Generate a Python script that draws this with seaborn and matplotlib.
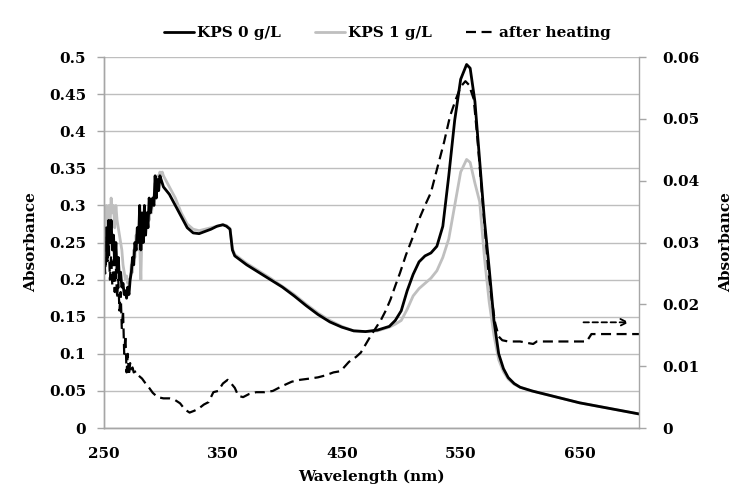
import numpy as np
import pandas as pd
import matplotlib
matplotlib.use("Agg")
import matplotlib.pyplot as plt
import seaborn as sns

# wavelength grid shared by the two KPS spectra (nm)
wl = [250, 251, 252, 253, 254, 255, 256, 257, 258, 259, 260, 261, 262, 263, 264,
      265, 266, 267, 268, 269, 270, 271, 272, 273, 274, 275, 276, 277, 278, 279,
      280, 281, 282, 283, 284, 285, 286, 287, 288, 289, 290, 291, 292, 293, 294,
      295, 296, 297, 298, 299, 300,
      305, 310, 315, 320, 325, 330, 335, 340, 345, 350, 353, 356, 358, 360, 365,
      370, 380, 390, 400, 410, 420, 430, 440, 450, 460, 470, 480, 490, 495, 500,
      505, 510, 515, 520, 525, 530, 535, 540, 545, 550, 555, 558, 562, 566, 570,
      574, 578, 582, 586, 590, 595, 600, 610, 620, 630, 640, 650, 660, 670, 680,
      690, 700]

kps0 = [0.26, 0.22, 0.27, 0.23, 0.28, 0.25, 0.28, 0.24, 0.26, 0.22, 0.25, 0.21, 0.23, 0.20, 0.21,
        0.19, 0.195, 0.18, 0.185, 0.175, 0.19, 0.18, 0.20, 0.21, 0.23, 0.22, 0.25, 0.24, 0.27, 0.25,
        0.30, 0.24, 0.29, 0.25, 0.30, 0.26, 0.29, 0.27, 0.31, 0.29, 0.30, 0.31, 0.30, 0.34, 0.31,
        0.335, 0.32, 0.34, 0.335, 0.33, 0.325,
        0.315, 0.30, 0.285, 0.27, 0.263, 0.262, 0.265, 0.268, 0.272, 0.274, 0.272, 0.268, 0.24, 0.232, 0.226,
        0.22, 0.21, 0.20, 0.19, 0.178, 0.165, 0.153, 0.143, 0.136, 0.131, 0.13, 0.132, 0.137, 0.145, 0.158,
        0.185, 0.207, 0.224, 0.232, 0.236, 0.245, 0.272, 0.34, 0.415, 0.47, 0.49, 0.485, 0.44, 0.36, 0.28,
        0.215, 0.145, 0.10, 0.08, 0.068, 0.06, 0.055, 0.05, 0.046, 0.042, 0.038, 0.034, 0.031, 0.028, 0.025,
        0.022, 0.019]

kps1 = [0.28, 0.26, 0.30, 0.28, 0.30, 0.27, 0.31, 0.29, 0.30, 0.27, 0.30, 0.28, 0.27, 0.26, 0.25,
        0.24, 0.22, 0.21, 0.20, 0.205, 0.195, 0.20, 0.20, 0.22, 0.21, 0.24, 0.23, 0.26, 0.24, 0.27,
        0.25, 0.20, 0.27, 0.28, 0.26, 0.29, 0.27, 0.29, 0.28, 0.30, 0.29, 0.31, 0.31, 0.33, 0.32,
        0.34, 0.335, 0.345, 0.34, 0.345, 0.34,
        0.325, 0.31, 0.29, 0.275, 0.268, 0.266, 0.268, 0.27, 0.272, 0.274, 0.273, 0.269, 0.242, 0.234, 0.228,
        0.222, 0.212, 0.202, 0.191, 0.18, 0.167, 0.155, 0.145, 0.137, 0.131, 0.13, 0.131, 0.136, 0.14, 0.145,
        0.16, 0.178, 0.188, 0.195, 0.202, 0.212, 0.23, 0.255, 0.30, 0.345, 0.362, 0.358, 0.33, 0.305, 0.23,
        0.17, 0.125, 0.092, 0.076, 0.066, 0.059, 0.055, 0.05, 0.046, 0.042, 0.038, 0.034, 0.031, 0.028, 0.025,
        0.022, 0.019]

# after heating, read on the right axis
wl_h = [250, 251, 252, 253, 254, 255, 256, 257, 258, 259, 260, 261, 262, 263, 264, 265,
        266, 267, 268, 269, 270, 271, 272, 273, 274, 275, 277, 279, 282, 285, 288, 291,
        295, 300, 305, 310, 314, 318, 322, 326, 330, 334, 338, 342, 346, 350, 354, 357,
        360, 363, 367, 372, 378, 385, 392, 400, 408, 415, 423, 430, 436, 443, 449, 456,
        462, 466, 470, 474, 478, 483, 487, 491, 495, 499, 504, 508, 512, 516, 520, 525,
        530, 536, 541, 546, 550, 554, 557, 561, 564, 567, 570, 573, 576, 579, 582, 585,
        590, 600, 608, 611, 614, 620, 630, 640, 656, 660, 670, 680, 690, 700]
heated = [0.029, 0.025, 0.031, 0.027, 0.030, 0.024, 0.028, 0.023, 0.027, 0.022, 0.026, 0.021, 0.024, 0.019, 0.022, 0.016,
          0.019, 0.012, 0.015, 0.009, 0.012, 0.0085, 0.0105, 0.0095, 0.0098, 0.009, 0.0092, 0.0085, 0.008, 0.0072, 0.0065, 0.0057,
          0.005, 0.0048, 0.0048, 0.0045, 0.004, 0.003, 0.0025, 0.0028, 0.0032, 0.0038, 0.0042, 0.0058, 0.006, 0.0072, 0.0078, 0.0072,
          0.0065, 0.0052, 0.005, 0.0055, 0.0058, 0.0058, 0.006, 0.0068, 0.0075, 0.0078, 0.008, 0.0082, 0.0085, 0.009, 0.0092, 0.0107,
          0.0115, 0.0122, 0.0135, 0.0148, 0.016, 0.0175, 0.019, 0.0208, 0.023, 0.0251, 0.028, 0.030, 0.032, 0.0342, 0.036, 0.0381,
          0.0418, 0.0462, 0.0504, 0.0532, 0.0552, 0.0561, 0.0555, 0.0532, 0.047, 0.040, 0.033, 0.026, 0.021, 0.017, 0.0148, 0.0142,
          0.014, 0.014, 0.0137, 0.0136, 0.014, 0.014, 0.014, 0.014, 0.014, 0.0152, 0.0152, 0.0152, 0.0152, 0.0152]

left_ticks = [0, 0.05, 0.1, 0.15, 0.2, 0.25, 0.3, 0.35, 0.4, 0.45, 0.5]
right_ticks = [0, 0.01, 0.02, 0.03, 0.04, 0.05, 0.06]
x_ticks = [250, 350, 450, 550, 650]

df = pd.DataFrame({"wl": wl, "kps0": kps0, "kps1": kps1})
dfh = pd.DataFrame({"wl": wl_h, "heated": heated})

sns.set_style("white")
plt.rcParams["font.family"] = ["DejaVu Serif"]
plt.rcParams["font.weight"] = "bold"
plt.rcParams["font.size"] = 11
plt.rcParams["text.color"] = "black"
plt.rcParams["axes.labelcolor"] = "black"
plt.rcParams["xtick.labelcolor"] = "black"
plt.rcParams["ytick.labelcolor"] = "black"

fig = plt.figure(figsize=(7.45, 4.92), dpi=100)
ax = fig.add_axes([0.1396, 0.130, 0.7181, 0.754])
ax2 = ax.twinx()

sns.lineplot(data=df, x="wl", y="kps1", ax=ax, color="#BFBFBF", lw=2.0, label="KPS 1 g/L", legend=False)
sns.lineplot(data=df, x="wl", y="kps0", ax=ax, color="black", lw=2.0, label="KPS 0 g/L", legend=False)
sns.lineplot(data=dfh, x="wl", y="heated", ax=ax2, color="black", lw=1.6,
             linestyle=(0, (4.5, 2.5)), label="after heating", legend=False)

ax.set_xlim(250, 700)
ax.set_ylim(0, 0.5)
ax2.set_ylim(0, 0.06)
ax.set_xticks(x_ticks)
ax.set_yticks(left_ticks)
ax.set_yticklabels(["0" if t == 0 else f"{t:g}" for t in left_ticks])
ax2.set_yticks(right_ticks)
ax2.set_yticklabels(["0" if t == 0 else f"{t:g}" for t in right_ticks])

ax.yaxis.grid(True, color="#BEBEBE", lw=1.0)
ax.set_axisbelow(True)
for a in (ax, ax2):
    a.spines["top"].set_visible(False)
    for s in ("left", "right", "bottom"):
        a.spines[s].set_color("#A6A6A6")
        a.spines[s].set_linewidth(1.0)
    a.tick_params(axis="both", length=5, width=1, color="#A6A6A6", direction="out")
ax.spines["right"].set_visible(False)
ax.tick_params(axis="y", pad=8)
ax.tick_params(axis="x", pad=9)
ax2.tick_params(axis="y", pad=12)

ax.set_xlabel("Wavelength (nm)", fontweight="bold", fontsize=11, labelpad=6)
ax.set_ylabel("Absorbance", fontweight="bold", fontsize=11, labelpad=8)
ax2.set_ylabel("Absorbance", fontweight="bold", fontsize=11, labelpad=14)

# arrow pointing to the right axis
ax2.annotate("", xy=(694, 0.0171), xytext=(651, 0.0171),
             arrowprops=dict(arrowstyle="->", color="black", lw=1.3, linestyle=(0, (3, 2)),
                             mutation_scale=12))

h1, l1 = ax.get_legend_handles_labels()
h2, l2 = ax2.get_legend_handles_labels()
handles = [h1[1], h1[0], h2[0]]
labels = [l1[1], l1[0], l2[0]]
fig.legend(handles, labels, loc="center", bbox_to_anchor=(0.52, 0.933), ncol=3, frameon=False,
           handlelength=2.0, handletextpad=0.2, columnspacing=2.2, prop={"weight": "bold", "size": 11})

fig.savefig("out.png", dpi=100)
